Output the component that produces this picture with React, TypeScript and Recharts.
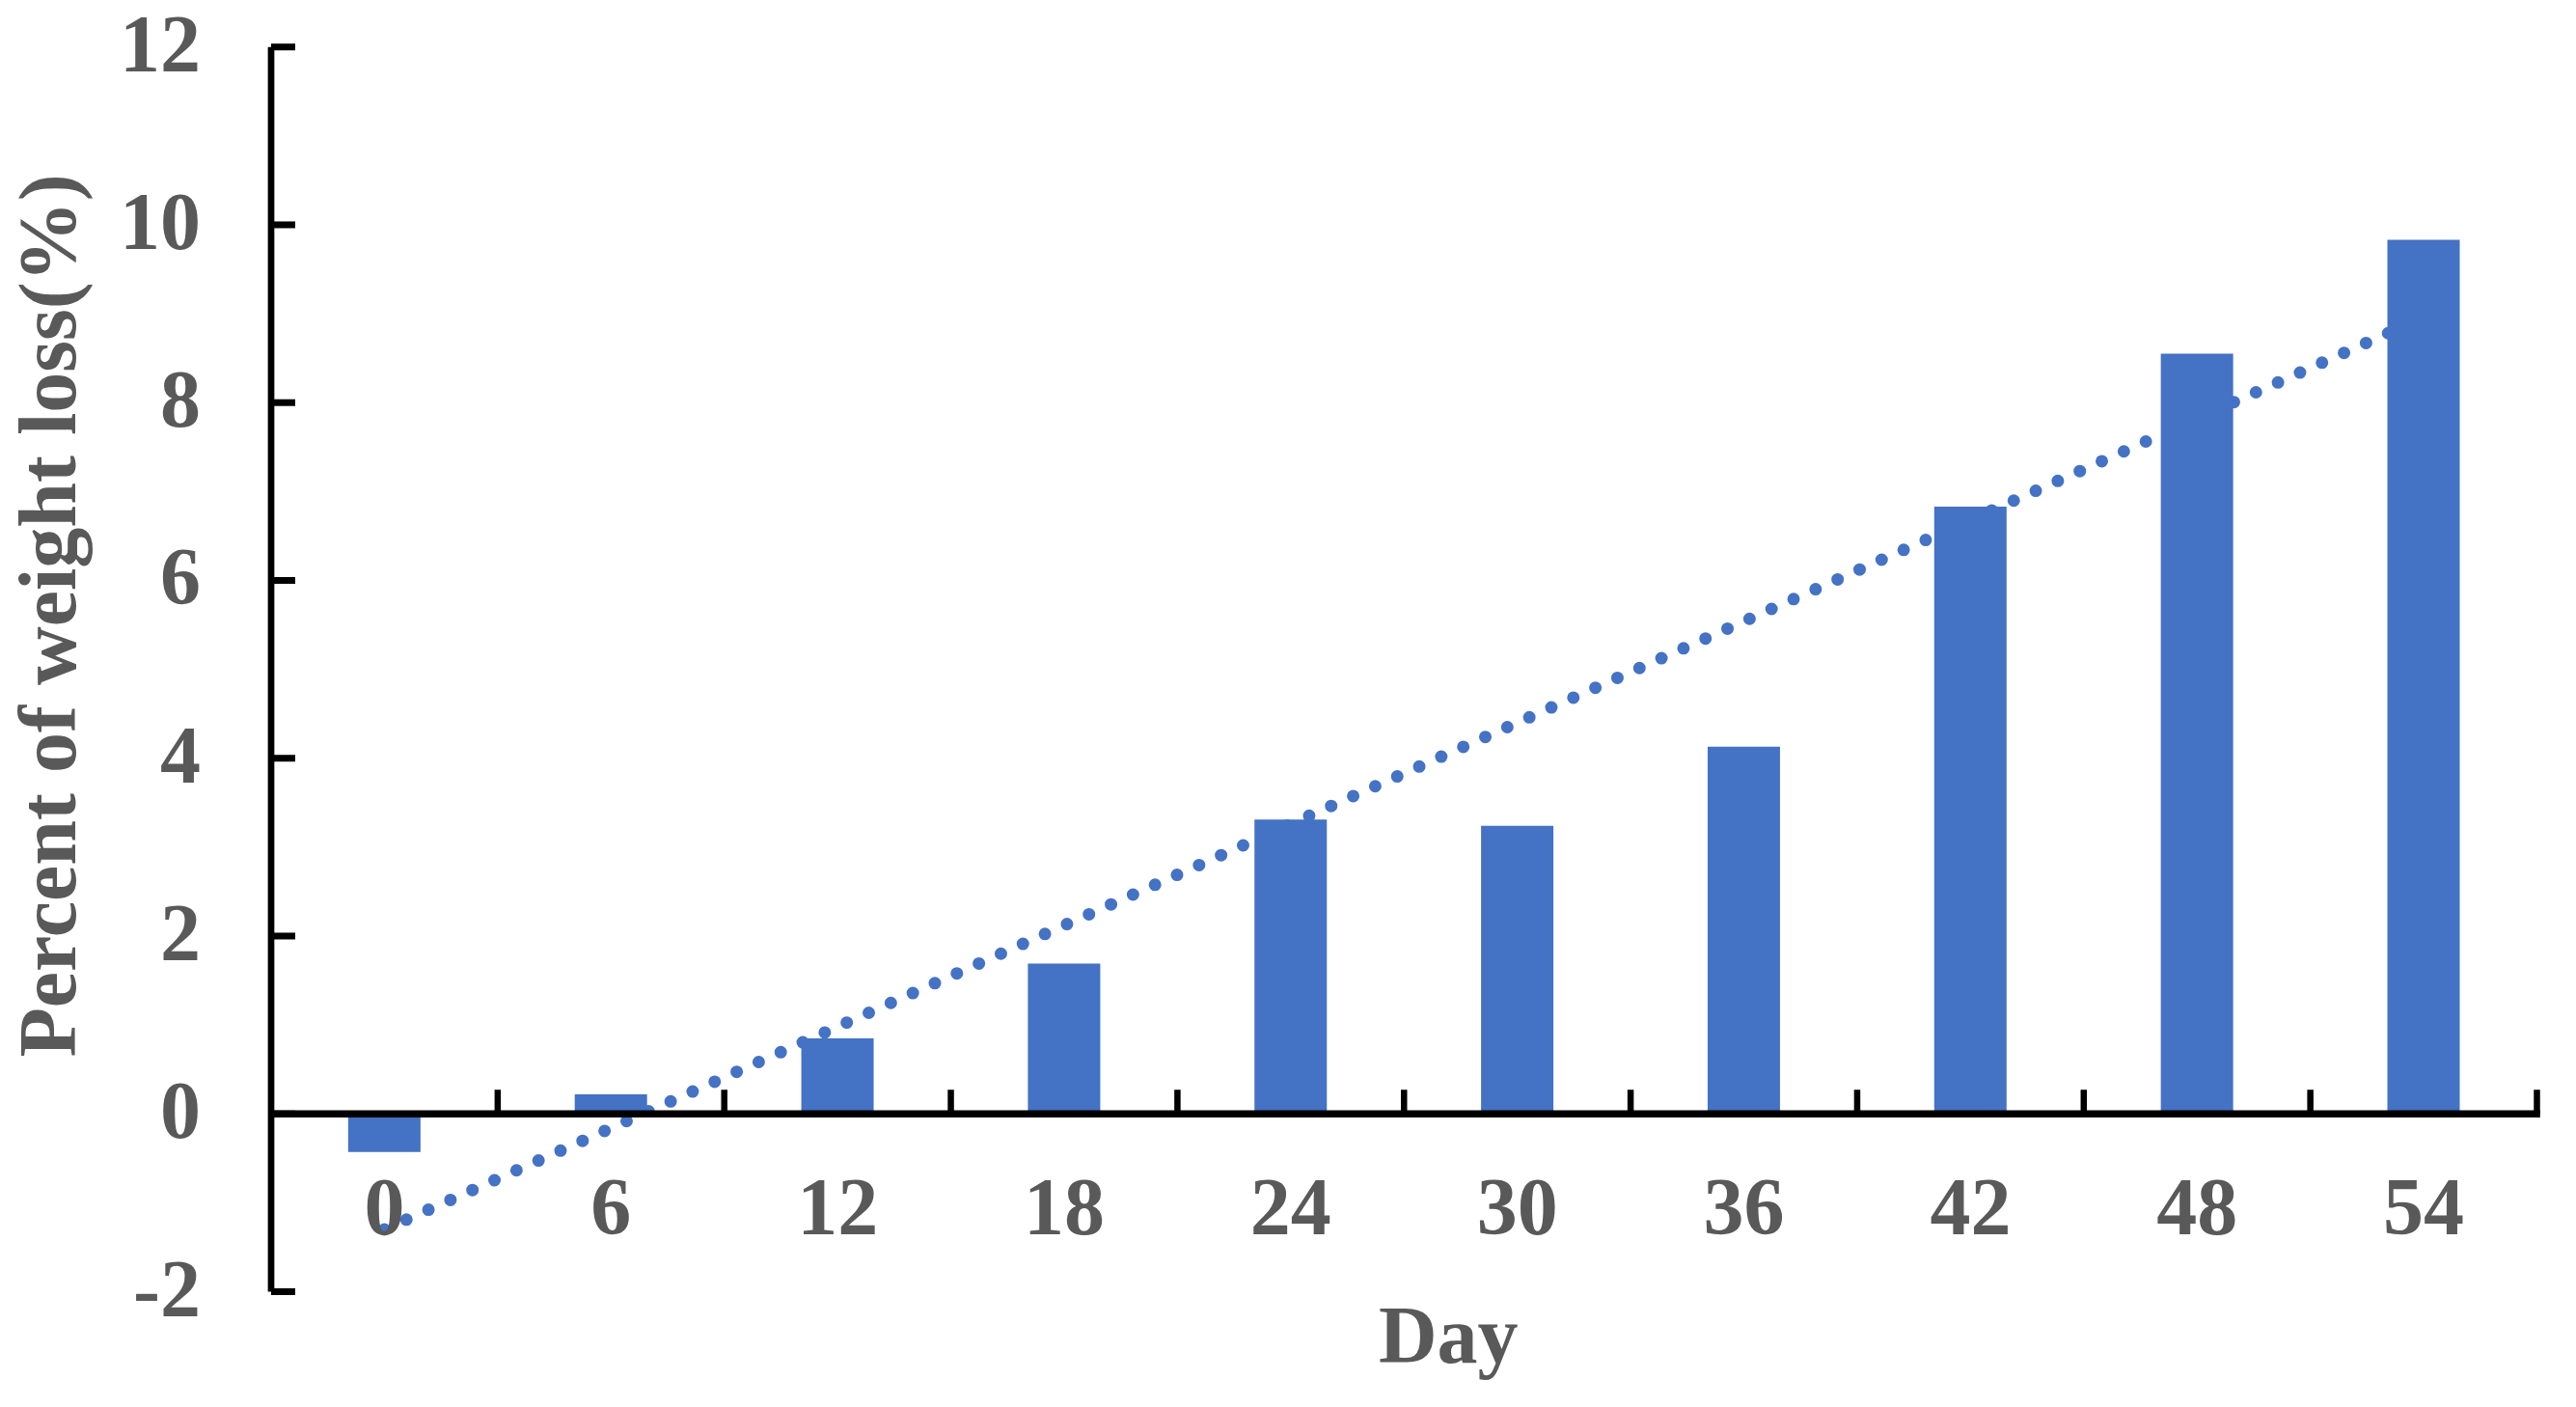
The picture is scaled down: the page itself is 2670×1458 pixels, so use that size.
import React from 'react';
import { ComposedChart, Bar, Line, XAxis, YAxis, ReferenceLine } from 'recharts';

const days = ['0', '6', '12', '18', '24', '30', '36', '42', '48', '54'];
const weightLoss = [-0.43, 0.22, 0.85, 1.69, 3.31, 3.24, 4.13, 6.83, 8.55, 9.83];
const trendValues = [-1.3, -0.16, 0.98, 2.12, 3.26, 4.4, 5.54, 6.68, 7.82, 8.96];
const yTicks = [-2, 0, 2, 4, 6, 8, 10, 12];

const data = days.map((d, i) => ({ day: d, loss: weightLoss[i], trend: trendValues[i] }));

const FONT = '"Liberation Serif", "Times New Roman", serif';
const TEXT_COLOR = '#595959';
const BLUE = '#4472C4';
const FS = 84;

const XTick = (props: any) => {
  const { x, y, payload } = props;
  return (
    <text x={x} y={y - 59.5} textAnchor="middle" fontFamily={FONT} fontWeight="bold" fontSize={FS} fill={TEXT_COLOR}>
      {payload.value}
    </text>
  );
};

const YTick = (props: any) => {
  const { x, y, payload } = props;
  return (
    <g>
      <line x1={x} y1={y} x2={x + 25} y2={y} stroke="#000" strokeWidth={7} />
      <text x={x - 73} y={y + 25} textAnchor="end" fontFamily={FONT} fontWeight="bold" fontSize={FS} fill={TEXT_COLOR}>
        {payload.value}
      </text>
    </g>
  );
};

const DayLabel = (props: any) => {
  const vb = props.viewBox || {};
  return (
    <text x={vb.x + vb.width / 2 + 46} y={vb.y + 73.2} textAnchor="middle" fontFamily={FONT} fontWeight="bold" fontSize={FS} fill={TEXT_COLOR}>
      Day
    </text>
  );
};

const YTitle = (props: any) => {
  const vb = props.viewBox || {};
  const cx = 70;
  const cy = vb.y + vb.height / 2 - 55.6;
  return (
    <text x={cx} y={cy} transform={`rotate(-90, ${cx}, ${cy})`} textAnchor="middle" fontFamily={FONT} fontWeight="bold" fontSize={FS} fill={TEXT_COLOR}>
      Percent of weight loss(%)
    </text>
  );
};

const ZeroAxis = (props: any) => {
  const { x1, y1, x2 } = props;
  const n = days.length;
  const step = (x2 - x1) / n;
  const ticks = [];
  for (let k = 1; k <= n; k++) {
    const tx = x1 + k * step;
    ticks.push(<line key={k} x1={tx} y1={y1} x2={tx} y2={y1 - 25} stroke="#000" strokeWidth={6.5} />);
  }
  return (
    <g>
      <line x1={x1} y1={y1} x2={x2 + 3.3} y2={y1} stroke="#000" strokeWidth={7.7} />
      {ticks}
    </g>
  );
};

export default function App() {
  return (
    <ComposedChart
      width={2654}
      height={1442}
      data={data}
      margin={{ top: 40.7, right: 32.5, bottom: 51.5, left: 0 }}
      barCategoryGap="34%"
    >
      <XAxis
        dataKey="day"
        axisLine={false}
        tickLine={false}
        tickSize={0}
        tickMargin={0}
        height={60}
        interval={0}
        tick={(p: any) => <XTick {...p} />}
        label={(p: any) => <DayLabel {...p} />}
      />
      <YAxis
        type="number"
        domain={[-2, 12]}
        ticks={yTicks}
        allowDataOverflow
        width={273}
        interval={0}
        axisLine={{ stroke: '#000', strokeWidth: 6.7 }}
        tickLine={false}
        tickSize={0}
        tickMargin={0}
        tick={(p: any) => <YTick {...p} />}
        label={(p: any) => <YTitle {...p} />}
      />
      <Line
        type="linear"
        dataKey="trend"
        stroke={BLUE}
        strokeWidth={13}
        strokeDasharray="0 25"
        strokeLinecap="round"
        dot={false}
        activeDot={false}
        isAnimationActive={false}
        zIndex={250}
      />
      <Bar dataKey="loss" fill={BLUE} isAnimationActive={false} zIndex={300} />
      <ReferenceLine y={0} shape={(p: any) => <ZeroAxis {...p} />} zIndex={600} />
    </ComposedChart>
  );
}
